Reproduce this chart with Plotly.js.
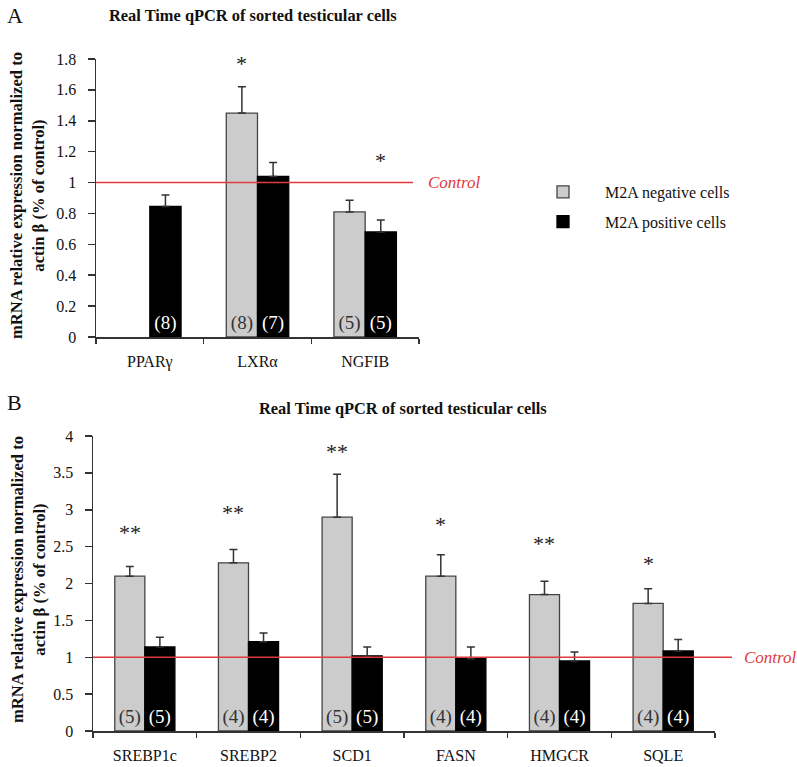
<!DOCTYPE html>
<html>
<head>
<meta charset="utf-8">
<script src="https://cdn.plot.ly/plotly-3.0.1.min.js"></script>
<style>html,body{margin:0;padding:0;background:#fff;}</style>
</head>
<body>
<div id="chart" style="width:797px;height:767px;"></div>
<script>
// ---------- DATA ----------
var seriesNames = ['M2A negative cells', 'M2A positive cells'];

// Panel A
var catsA = ['PPARγ', 'LXRα', 'NGFIB'];
var negA = [null, 1.45, 0.81];
var negErrA = [null, 0.17, 0.075];
var negNA = ['', '(8)', '(5)'];
var posA = [0.845, 1.04, 0.68];
var posErrA = [0.075, 0.09, 0.077];
var posNA = ['(8)', '(7)', '(5)'];
var starCatsA = ['LXRα', 'NGFIB'];
var starSeriesA = [0, 1];
var starYA = [1.78, 1.15];
var starTextA = ['*', '*'];

// Panel B
var catsB = ['SREBP1c', 'SREBP2', 'SCD1', 'FASN', 'HMGCR', 'SQLE'];
var negB = [2.10, 2.28, 2.90, 2.10, 1.85, 1.73];
var negErrB = [0.13, 0.18, 0.58, 0.29, 0.18, 0.20];
var negNB = ['(5)', '(4)', '(5)', '(4)', '(4)', '(4)'];
var posB = [1.14, 1.21, 1.02, 0.98, 0.95, 1.085];
var posErrB = [0.13, 0.12, 0.12, 0.16, 0.12, 0.155];
var posNB = ['(5)', '(4)', '(5)', '(4)', '(4)', '(4)'];
var starCatsB = ['SREBP1c', 'SREBP2', 'SCD1', 'FASN', 'HMGCR', 'SQLE'];
var starSeriesB = [0, 0, 0, 0, 0, 0];
var starYB = [2.71, 2.98, 3.81, 2.82, 2.55, 2.29];
var starTextB = ['**', '**', '**', '*', '**', '*'];

var controlValue = 1;
var titleText = 'Real Time qPCR of sorted testicular cells';
var yTitleText = 'mRNA relative expression normalized to<br>actin β (% of control)';

// ---------- STYLE ----------
var W = 797, H = 767;
var SERIF = 'Liberation Serif, Times New Roman, serif';
var GRAY = '#cccccc', BLACK = '#000000', RED = '#e0393e', AX = '#333333';
var bargap = 0.42;
var domA = {x: [96 / W, 419 / W], y: [(H - 337) / H, (H - 59) / H]};
var domB = {x: [93 / W, 715 / W], y: [(H - 731) / H, (H - 436) / H]};

function zeros(a) { return a.map(function () { return 0; }); }

function barTrace(cats, vals, errs, labels, idx, xa, ya, showLeg) {
  var isNeg = idx === 0;
  return {
    type: 'bar', name: seriesNames[idx], x: cats, y: vals,
    xaxis: xa, yaxis: ya, showlegend: showLeg, legendgroup: 'g' + idx,
    marker: {color: isNeg ? GRAY : BLACK, line: {color: isNeg ? '#444' : BLACK, width: 1.3}},
    error_y: {type: 'data', array: errs, arrayminus: zeros(errs), symmetric: false,
              color: AX, thickness: 1.5, width: 4},
    text: labels, textposition: 'inside', insidetextanchor: 'start', textangle: 0,
    constraintext: 'none',
    textfont: {family: SERIF, size: 19, color: isNeg ? '#333333' : '#ffffff'},
    hoverinfo: 'x+y'
  };
}

var data = [
  barTrace(catsA, negA, negErrA, negNA, 0, 'x', 'y', true),
  barTrace(catsA, posA, posErrA, posNA, 1, 'x', 'y', true),
  barTrace(catsB, negB, negErrB, negNB, 0, 'x2', 'y2', false),
  barTrace(catsB, posB, posErrB, posNB, 1, 'x2', 'y2', false)
];

function xAxis(dom, cats, anchor) {
  return {
    domain: dom, anchor: anchor, type: 'category', range: [-0.5, cats.length - 0.5],
    showline: true, linecolor: AX, linewidth: 1.5, ticks: 'outside', tickson: 'boundaries',
    ticklen: 5, tickwidth: 1.5, tickcolor: AX, showgrid: false, zeroline: false,
    ticklabelstandoff: 9,
    tickfont: {family: SERIF, size: 16, color: '#111'}, automargin: false, fixedrange: true
  };
}
function yAxis(dom, rng, dt, anchor) {
  return {
    domain: dom, anchor: anchor, range: rng, dtick: dt, tick0: 0,
    showline: true, linecolor: AX, linewidth: 1.5, ticks: 'outside', ticklen: 7,
    tickwidth: 1.5, tickcolor: AX, showgrid: false, zeroline: false,
    ticklabelstandoff: 8,
    tickfont: {family: SERIF, size: 16, color: '#111'}, automargin: false, fixedrange: true
  };
}

function starAnns(cats, series, ys, texts, xa, ya, dom, nCats) {
  var catPx = (dom[1] - dom[0]) * W / nCats;
  var off = catPx * (1 - bargap) / 4;
  return cats.map(function (c, i) {
    return {x: c, y: ys[i], xref: xa, yref: ya, text: texts[i], showarrow: false,
            xshift: series[i] === 0 ? -off : off, yshift: -1,
            font: {family: SERIF, size: 22, color: '#222'}};
  });
}

var annotations = []
  .concat(starAnns(starCatsA, starSeriesA, starYA, starTextA, 'x', 'y', domA.x, catsA.length))
  .concat(starAnns(starCatsB, starSeriesB, starYB, starTextB, 'x2', 'y2', domB.x, catsB.length))
  .concat([
    {text: 'A', x: 5 / W, y: (H - 15) / H, xref: 'paper', yref: 'paper', xanchor: 'left', yanchor: 'middle',
     showarrow: false, font: {family: SERIF, size: 22, color: '#111'}},
    {text: 'B', x: 5 / W, y: (H - 403) / H, xref: 'paper', yref: 'paper', xanchor: 'left', yanchor: 'middle',
     showarrow: false, font: {family: SERIF, size: 22, color: '#111'}},
    {text: '<b>' + titleText + '</b>', x: 253 / W, y: (H - 16) / H, xref: 'paper', yref: 'paper',
     xanchor: 'center', yanchor: 'middle', showarrow: false, font: {family: SERIF, size: 16.4, color: '#111'}},
    {text: '<b>' + titleText + '</b>', x: 403 / W, y: (H - 408) / H, xref: 'paper', yref: 'paper',
     xanchor: 'center', yanchor: 'middle', showarrow: false, font: {family: SERIF, size: 16.4, color: '#111'}},
    {text: '<b>' + yTitleText + '</b>', x: 28 / W, y: (H - 196) / H, xref: 'paper', yref: 'paper',
     xanchor: 'center', yanchor: 'middle', textangle: -90, showarrow: false,
     font: {family: SERIF, size: 16.6, color: '#111'}},
    {text: '<b>' + yTitleText + '</b>', x: 28 / W, y: (H - 580) / H, xref: 'paper', yref: 'paper',
     xanchor: 'center', yanchor: 'middle', textangle: -90, showarrow: false,
     font: {family: SERIF, size: 16.6, color: '#111'}},
    {text: '<i>Control</i>', x: 426 / W, y: controlValue, xref: 'paper', yref: 'y', xanchor: 'left',
     yanchor: 'middle', showarrow: false, font: {family: SERIF, size: 17, color: RED}},
    {text: '<i>Control</i>', x: 742 / W, y: controlValue, xref: 'paper', yref: 'y2', xanchor: 'left',
     yanchor: 'middle', showarrow: false, font: {family: SERIF, size: 17, color: RED}}
  ]);

var shapes = [
  {type: 'line', xref: 'paper', yref: 'y', x0: 96 / W, x1: 413 / W, y0: controlValue, y1: controlValue,
   line: {color: RED, width: 1.5}},
  {type: 'line', xref: 'paper', yref: 'y2', x0: 93 / W, x1: 732 / W, y0: controlValue, y1: controlValue,
   line: {color: RED, width: 1.5}}
];

var layout = {
  width: W, height: H, margin: {l: 0, r: 0, t: 0, b: 0, autoexpand: false},
  paper_bgcolor: '#ffffff', plot_bgcolor: 'rgba(0,0,0,0)',
  barmode: 'group', bargap: bargap, bargroupgap: 0,
  font: {family: SERIF, color: '#111'},
  xaxis: xAxis(domA.x, catsA, 'y'),
  yaxis: yAxis(domA.y, [0, 1.8], 0.2, 'x'),
  xaxis2: xAxis(domB.x, catsB, 'y2'),
  yaxis2: yAxis(domB.y, [0, 4], 0.5, 'x2'),
  showlegend: true,
  legend: {x: 521 / W, y: (H - 175) / H, xanchor: 'left', yanchor: 'top',
           bgcolor: 'rgba(0,0,0,0)', font: {family: SERIF, size: 16, color: '#111'},
           itemwidth: 74, tracegroupgap: 6, traceorder: 'grouped'},
  annotations: annotations,
  shapes: shapes
};

Plotly.newPlot('chart', data, layout, {staticPlot: true, displayModeBar: false});
</script>
</body>
</html>
